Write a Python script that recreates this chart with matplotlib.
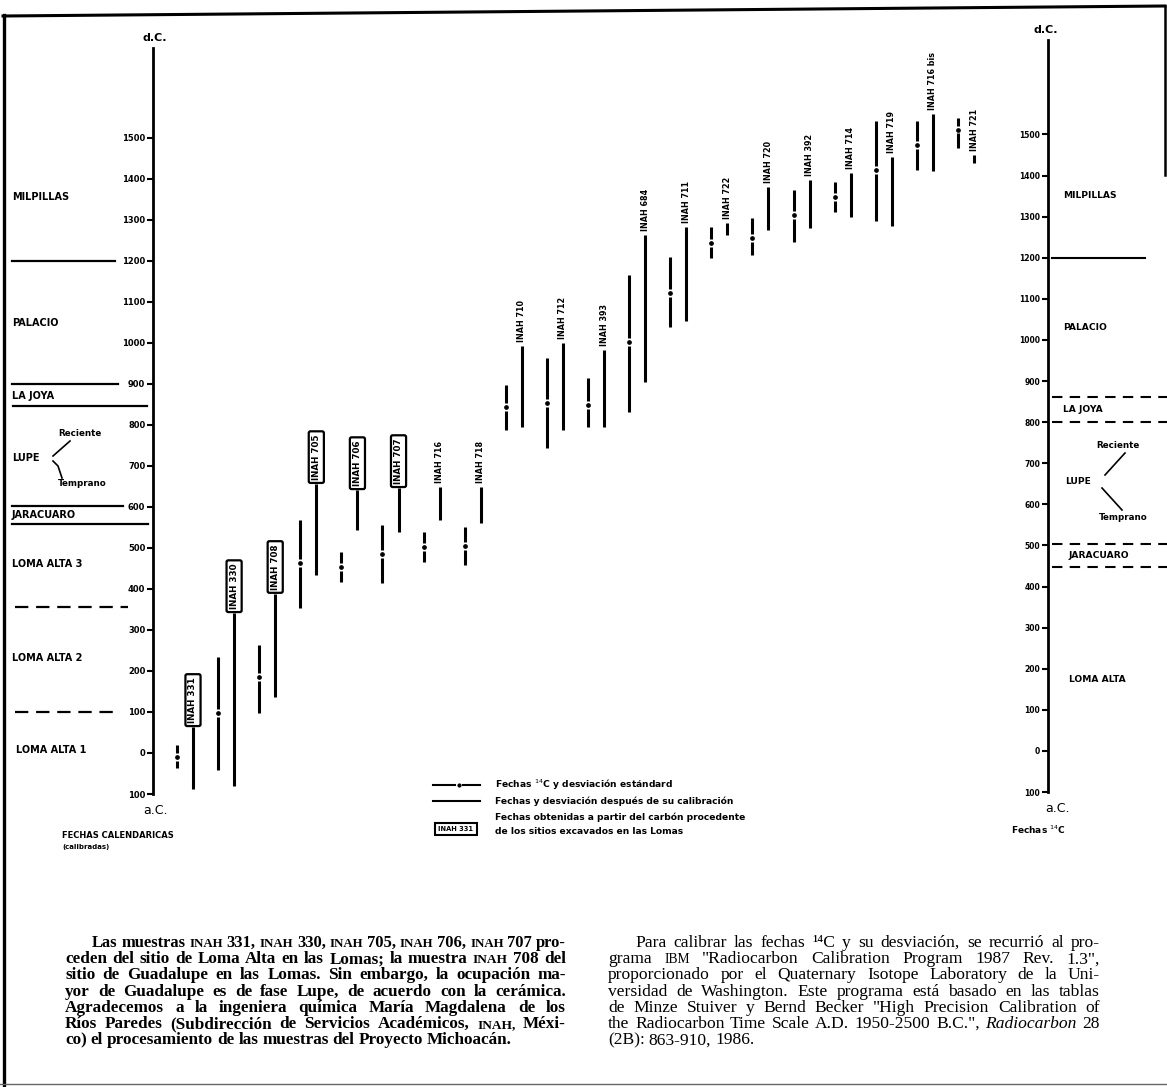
import matplotlib
matplotlib.use('Agg')
import matplotlib.pyplot as plt
from matplotlib.transforms import blended_transform_factory

W, H = 1167, 1087

# muestras (orden de izquierda a derecha)
labels = ['INAH 331', 'INAH 330', 'INAH 708', 'INAH 705', 'INAH 706', 'INAH 707',
          'INAH 716', 'INAH 718', 'INAH 710', 'INAH 712', 'INAH 393', 'INAH 684',
          'INAH 711', 'INAH 722', 'INAH 720', 'INAH 392', 'INAH 714', 'INAH 719',
          'INAH 716 bis', 'INAH 721']
boxed = [True] * 6 + [False] * 14

# fechas 14C (centro y desviacion), negativo = a.C.
c14_mid = [-10, 98, 185, 463, 454, 485, 502, 505, 844, 854, 849, 1002,
           1122, 1244, 1256, 1312, 1356, 1422, 1483, 1520]
c14_lo = [-37, -41, 98, 354, 417, 415, 466, 459, 788, 744, 795, 832,
          1039, 1207, 1215, 1246, 1320, 1298, 1422, 1476]
c14_hi = [20, 234, 263, 568, 490, 556, 539, 551, 898, 963, 915, 1166,
          1210, 1283, 1305, 1373, 1393, 1541, 1541, 1549]

# fechas calibradas
cal_lo = [-88, -80, 137, 434, 544, 539, 568, 561, 795, 788, 795, 905,
          1054, 1263, 1276, 1280, 1307, 1285, 1420, 1439]
cal_hi = [63, 341, 388, 656, 641, 646, 649, 649, 993, 1000, 983, 1263,
          1283, 1293, 1380, 1398, 1415, 1454, 1559, 1459]

year_ticks = list(range(-100, 1600, 100))
year_ticklabels = [str(abs(t)) for t in year_ticks]

# limites de fases (calendario, izquierda)
left_phase_years = [1200, 900, 846, 602, 558, 356, 100]
left_phase_dashed = [False, False, False, False, False, True, True]
# limites de fases (14C, derecha)
right_phase_years = [1200, 860, 800, 503, 448]
right_phase_dashed = [False, True, True, True, True]

SANS = ['DejaVu Sans']
SERIF = ['Liberation Serif', 'DejaVu Serif']

fig = plt.figure(figsize=(W / 100, H / 100), dpi=100)
bg = fig.add_axes([0, 0, 1, 1])
bg.set_xlim(0, W)
bg.set_ylim(H, 0)
bg.set_autoscale_on(False)
bg.axis('off')


def rect(x0, y0, x1, y1):
    return [x0 / W, 1 - y1 / H, (x1 - x0) / W, (y1 - y0) / H]


# eje calendarico
ax = fig.add_axes(rect(153, 48, 1048, 794))
ax.set_ylim(-100, 1719.5)
ax.set_xlim(-0.973, 20.80)
ax.patch.set_visible(False)
for s in ['top', 'right', 'bottom']:
    ax.spines[s].set_visible(False)
ax.spines['left'].set_linewidth(2)
ax.set_xticks([])
ax.set_yticks(year_ticks)
ax.set_yticklabels(year_ticklabels)
ax.tick_params(axis='y', direction='out', length=4, width=1.5, pad=1.5, labelsize=6)
for t in ax.get_yticklabels():
    t.set_fontweight('bold')

# eje 14C
ax2 = fig.add_axes(rect(1048, 40, 1049, 792))
ax2.set_ylim(-100, 1729.7)
ax2.patch.set_visible(False)
for s in ['top', 'right', 'bottom']:
    ax2.spines[s].set_visible(False)
ax2.spines['left'].set_linewidth(2)
ax2.set_xticks([])
ax2.set_yticks(year_ticks)
ax2.set_yticklabels(year_ticklabels)
ax2.tick_params(axis='y', direction='out', length=4, width=1.5, pad=1.5, labelsize=5.5)
for t in ax2.get_yticklabels():
    t.set_fontweight('bold')

# barras
xs_cal = list(range(len(labels)))
xs_c14 = [x - 0.39 for x in xs_cal]
gap = 9
ax.vlines(xs_cal, cal_lo, cal_hi, colors='black', lw=2.2)
ax.vlines(xs_c14, c14_lo, [m - gap for m in c14_mid], colors='black', lw=2.2)
ax.vlines(xs_c14, [m + gap for m in c14_mid], c14_hi, colors='black', lw=2.2)
ax.plot(xs_c14, c14_mid, 'o', color='black', ms=2.4, ls='none')

for x, top, lab, b in zip(xs_cal, cal_hi, labels, boxed):
    if b:
        ax.annotate(lab, (x, top), xytext=(0, 3), textcoords='offset points',
                    rotation=90, ha='center', va='bottom', fontsize=6.3,
                    fontweight='bold', annotation_clip=False,
                    bbox=dict(boxstyle='round,pad=0.35,rounding_size=0.2',
                              fc='white', ec='black', lw=1.6))
    else:
        ax.annotate(lab, (x, top), xytext=(0, 3), textcoords='offset points',
                    rotation=90, ha='center', va='bottom', fontsize=5.8,
                    fontweight='bold', annotation_clip=False)

# fases lado izquierdo
trL = blended_transform_factory(bg.transData, ax.transData)
left_ext = [(12, 115), (12, 118), (13, 147), (12, 123), (12, 148), (15, 128), (15, 120)]
for yr, d, (x0, x1) in zip(left_phase_years, left_phase_dashed, left_ext):
    if d:
        bg.plot([x0, x1], [yr, yr], color='black', lw=1.6, dashes=(6, 3.5),
                transform=trL, clip_on=False)
    else:
        bg.plot([x0, x1], [yr, yr], color='black', lw=1.6, transform=trL, clip_on=False)

left_texts = [('MILPILLAS', 12, 197), ('PALACIO', 12, 323), ('LA JOYA', 12, 396),
              ('LUPE', 12, 458), ('JARACUARO', 12, 515), ('LOMA ALTA 3', 12, 564),
              ('LOMA ALTA 2', 12, 658), ('LOMA ALTA 1', 16, 750)]
for s, x, y in left_texts:
    bg.text(x, y, s, fontsize=7, fontweight='bold', va='center', ha='left', family=SANS)
bg.text(58, 433, 'Reciente', fontsize=6.3, fontweight='bold', va='center', ha='left')
bg.text(58, 484, 'Temprano', fontsize=6.3, fontweight='bold', va='center', ha='left')
bg.plot([53, 70], [456, 441], color='black', lw=1.2)
bg.plot([53, 58, 60, 62], [461, 466, 472, 478], color='black', lw=1.2)

# fases lado derecho
trR = blended_transform_factory(bg.transData, ax2.transData)
right_ext = [(1052, 1145), (1052, 1167), (1052, 1167), (1052, 1167), (1052, 1167)]
for yr, d, (x0, x1) in zip(right_phase_years, right_phase_dashed, right_ext):
    if d:
        bg.plot([x0, x1], [yr, yr], color='black', lw=1.5, dashes=(5, 3.5),
                transform=trR, clip_on=False)
    else:
        bg.plot([x0, x1], [yr, yr], color='black', lw=1.5, transform=trR, clip_on=False)

right_texts = [('MILPILLAS', 1063, 195), ('PALACIO', 1063, 327), ('LA JOYA', 1063, 409),
               ('LUPE', 1065, 482), ('JARACUARO', 1068, 555), ('LOMA ALTA', 1069, 680)]
for s, x, y in right_texts:
    bg.text(x, y, s, fontsize=6.6, fontweight='bold', va='center', ha='left')
bg.text(1096, 445, 'Reciente', fontsize=6.3, fontweight='bold', va='center', ha='left')
bg.text(1099, 517, 'Temprano', fontsize=6.3, fontweight='bold', va='center', ha='left')
bg.plot([1105, 1125], [475, 453], color='black', lw=1.2)
bg.plot([1102, 1122], [488, 510], color='black', lw=1.2)

# rotulos de ejes
bg.text(155, 38, 'd.C.', fontsize=8, fontweight='bold', ha='center', va='center')
bg.text(155, 811, 'a.C.', fontsize=9, ha='center', va='center')
bg.text(62, 835, 'FECHAS CALENDARICAS', fontsize=6, fontweight='bold', ha='left', va='center')
bg.text(62, 847, '(calibradas)', fontsize=5, fontweight='bold', ha='left', va='center')
bg.text(1046, 30, 'd.C.', fontsize=8, fontweight='bold', ha='center', va='center')
bg.text(1057, 808, 'a.C.', fontsize=9, ha='center', va='center')
bg.text(1011, 830, 'Fechas $^{14}$C', fontsize=6.5, fontweight='bold', ha='left', va='center')

# leyenda
bg.plot([433, 455], [785, 785], color='black', lw=1.5)
bg.plot([459], [785], 'o', color='black', ms=2)
bg.plot([463, 480], [785, 785], color='black', lw=1.5)
bg.plot([433, 480], [801, 801], color='black', lw=1.5)
bg.text(456, 829, 'INAH 331', fontsize=4.8, fontweight='bold', ha='center', va='center',
        bbox=dict(boxstyle='square,pad=0.5', fc='white', ec='black', lw=1.5))
legend_lines = ['Fechas $^{14}$C y desviación estándard',
                'Fechas y desviación después de su calibración',
                'Fechas obtenidas a partir del carbón procedente',
                'de los sitios excavados en las Lomas']
for s, y in zip(legend_lines, [785, 801, 817, 832]):
    bg.text(495, y, s, fontsize=6.6, fontweight='bold', ha='left', va='center')

# marco
bg.plot([3, 1165], [16, 6], color='black', lw=2.2)
bg.plot([4, 4], [15, H], color='black', lw=2.4)
bg.plot([1165, 1165], [6, 175], color='black', lw=1.8)
bg.plot([0, W], [1084, 1084], color='0.4', lw=1)

# parrafos
renderer = fig.canvas.get_renderer()


def put_line(line, x0, x1, y, size, weight, justify=True):
    while True:
        objs = []
        for tok in line.split(' '):
            kw = dict(fontsize=size, fontweight=weight, family=SERIF)
            if tok.startswith('*'):
                tok = tok[1:]
                kw['style'] = 'italic'
            if tok.rstrip(',.;') in ('INAH', 'IBM'):
                kw['fontsize'] = size * 0.78
            objs.append(bg.text(x0, y, tok, va='baseline', ha='left', **kw))
        widths = [o.get_window_extent(renderer).width for o in objs]
        if justify and len(objs) > 1:
            sp = (x1 - x0 - sum(widths)) / (len(objs) - 1)
        else:
            sp = size * 0.32
        if sp >= size * 0.22:
            break
        for o in objs:
            o.remove()
        size *= 0.97
    x = x0
    for o, w in zip(objs, widths):
        o.set_x(x)
        x += w + sp


left_par = ['Las muestras INAH 331, INAH 330, INAH 705, INAH 706, INAH 707 pro-',
            'ceden del sitio de Loma Alta en las Lomas; la muestra INAH 708 del',
            'sitio de Guadalupe en las Lomas. Sin embargo, la ocupación ma-',
            'yor de Guadalupe es de fase Lupe, de acuerdo con la cerámica.',
            'Agradecemos a la ingeniera química María Magdalena de los',
            'Ríos Paredes (Subdirección de Servicios Académicos, INAH, Méxi-',
            'co) el procesamiento de las muestras del Proyecto Michoacán.']
right_par = ['Para calibrar las fechas ¹⁴C y su desviación, se recurrió al pro-',
             'grama IBM "Radiocarbon Calibration Program 1987 Rev. 1.3",',
             'proporcionado por el Quaternary Isotope Laboratory de la Uni-',
             'versidad de Washington. Este programa está basado en las tablas',
             'de Minze Stuiver y Bernd Becker "High Precision Calibration of',
             'the Radiocarbon Time Scale A.D. 1950-2500 B.C.", *Radiocarbon 28',
             '(2B): 863-910, 1986.']

for k, line in enumerate(left_par):
    x0 = 92 if k == 0 else 65
    put_line(line, x0, 566, 947 + 16.2 * k, 12.3, 'bold', justify=k < len(left_par) - 1)
for k, line in enumerate(right_par):
    x0 = 635 if k == 0 else 608
    put_line(line, x0, 1100, 947 + 16.2 * k, 12.6, 'normal', justify=k < len(right_par) - 1)

fig.savefig('out.png', dpi=100)
